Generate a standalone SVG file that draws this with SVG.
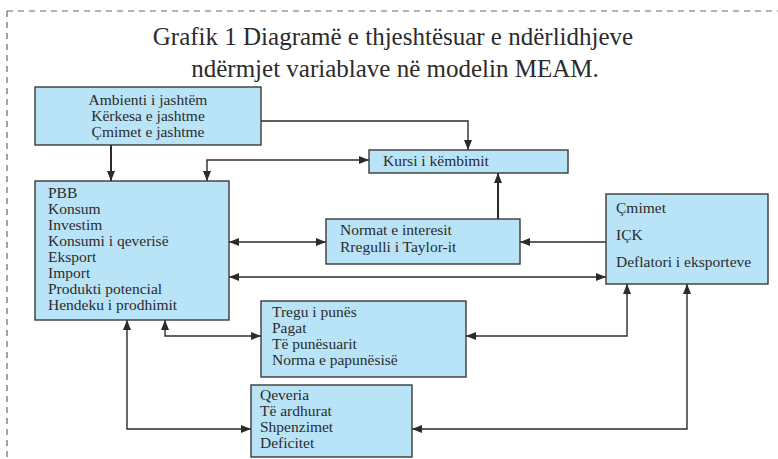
<svg xmlns="http://www.w3.org/2000/svg" width="778" height="459" viewBox="0 0 778 459">
<style>
.box{fill:#b9e4f8;stroke:#3a3a3a;stroke-width:1.4}
.t{font-size:15.5px;fill:#2b2b2b}
.title{font-size:25px;fill:#2b2b2b}
.c{fill:none;stroke:#2b2b2b;stroke-width:1.4}
.v{fill:none;stroke:#2b2b2b;stroke-width:2}
</style>
<defs>
<marker id="a" viewBox="0 0 10 8" refX="10" refY="4" markerWidth="10" markerHeight="8" markerUnits="userSpaceOnUse" orient="auto-start-reverse">
<path d="M0,0 L10,4 L0,8 Z" fill="#2b2b2b"/>
</marker>
</defs>
<rect width="778" height="459" fill="#fff"/>
<path d="M7,11 H778 M7,11 V459" fill="none" stroke="#666" stroke-width="1.2" stroke-dasharray="6,5"/>
<g font-family="'Liberation Serif', 'Times New Roman', 'DejaVu Serif', serif">
<g id="title">
<text class="title" x="393" y="45" text-anchor="middle">Grafik 1 Diagramë e thjeshtësuar e ndërlidhjeve</text>
<text class="title" x="395" y="77" text-anchor="middle">ndërmjet variablave në modelin MEAM.</text>
</g>
<g id="connectors">
<path class="v" d="M111,145 V181" marker-end="url(#a)"/>
<path class="c" d="M261,121 H468 V150" marker-end="url(#a)"/>
<path class="c" d="M369,160 H207 V181" marker-start="url(#a)" marker-end="url(#a)"/>
<path class="v" d="M498,219 V173" marker-end="url(#a)"/>
<path class="c" d="M229,242 H326" marker-start="url(#a)" marker-end="url(#a)"/>
<path class="c" d="M606,242 H520" marker-end="url(#a)"/>
<path class="c" d="M229,277 H606" marker-start="url(#a)" marker-end="url(#a)"/>
<path class="c" d="M165,320 V336 H261" marker-start="url(#a)" marker-end="url(#a)"/>
<path class="c" d="M127,320 V429 H251" marker-start="url(#a)" marker-end="url(#a)"/>
<path class="c" d="M627,284 V336 H466" marker-start="url(#a)" marker-end="url(#a)"/>
<path class="c" d="M687,284 V429 H412" marker-start="url(#a)" marker-end="url(#a)"/>
</g>
<g id="ambienti">
<rect class="box" x="35" y="87" width="226" height="58"/>
<text class="t" x="148" y="105" text-anchor="middle">Ambienti i jashtëm</text>
<text class="t" x="148" y="121" text-anchor="middle">Kërkesa e jashtme</text>
<text class="t" x="148" y="137" text-anchor="middle">Çmimet e jashtme</text>
</g>
<g id="kursi">
<rect class="box" x="369" y="150" width="199" height="23"/>
<text class="t" x="383" y="166">Kursi i këmbimit</text>
</g>
<g id="pbb">
<rect class="box" x="35" y="181" width="194" height="139"/>
<text class="t" x="48" y="198">PBB</text>
<text class="t" x="48" y="214">Konsum</text>
<text class="t" x="48" y="230">Investim</text>
<text class="t" x="48" y="246">Konsumi i qeverisë</text>
<text class="t" x="48" y="262">Eksport</text>
<text class="t" x="48" y="278">Import</text>
<text class="t" x="48" y="294">Produkti potencial</text>
<text class="t" x="48" y="310">Hendeku i prodhimit</text>
</g>
<g id="normat">
<rect class="box" x="326" y="219" width="194" height="45"/>
<text class="t" x="340" y="235">Normat e interesit</text>
<text class="t" x="340" y="252">Rregulli i Taylor-it</text>
</g>
<g id="cmimet">
<rect class="box" x="606" y="194" width="162" height="90"/>
<text class="t" x="616" y="213">Çmimet</text>
<text class="t" x="616" y="240">IÇK</text>
<text class="t" x="616" y="267">Deflatori i eksporteve</text>
</g>
<g id="tregu">
<rect class="box" x="261" y="301" width="205" height="76"/>
<text class="t" x="272" y="317">Tregu i punës</text>
<text class="t" x="272" y="333">Pagat</text>
<text class="t" x="272" y="349">Të punësuarit</text>
<text class="t" x="272" y="365">Norma e papunësisë</text>
</g>
<g id="qeveria">
<rect class="box" x="251" y="385" width="161" height="72"/>
<text class="t" x="260" y="400">Qeveria</text>
<text class="t" x="260" y="416">Të ardhurat</text>
<text class="t" x="260" y="432">Shpenzimet</text>
<text class="t" x="260" y="448">Deficitet</text>
</g>
</g>
</svg>
